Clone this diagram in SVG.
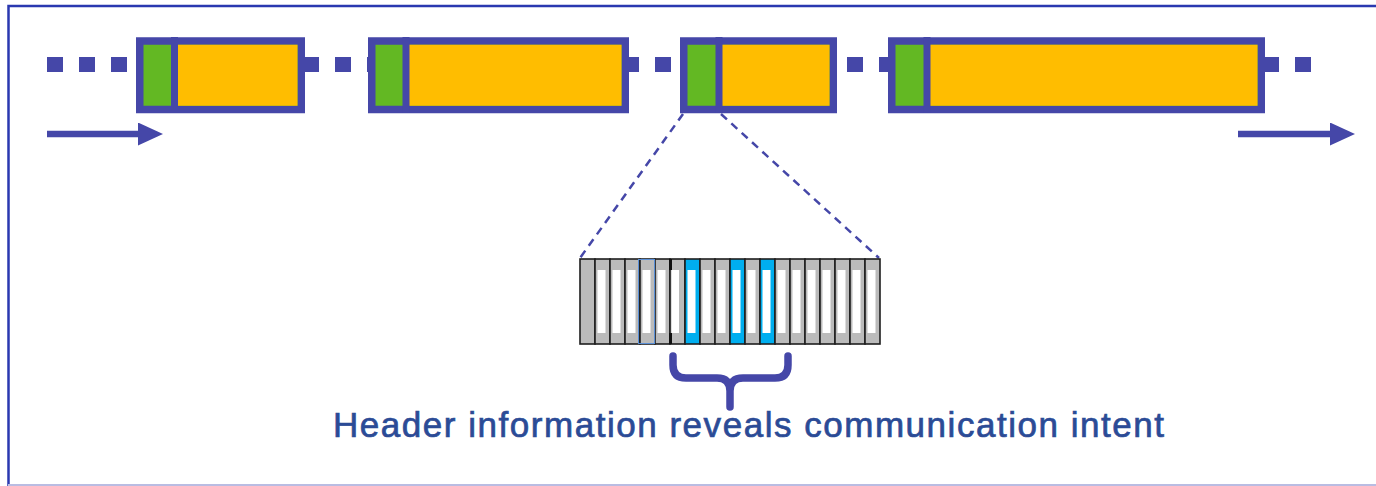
<svg xmlns="http://www.w3.org/2000/svg" width="1376" height="486" viewBox="0 0 1376 486">
<style>
.frame{fill:none;stroke:#2A38B0;stroke-width:2.5}
.pk{stroke:#4547A8;stroke-width:7.5}
.grn{fill:#63B823}
.org{fill:#FFBD00}
.div{stroke:#4547A8;stroke-width:7}
.stream{fill:none;stroke:#4547A8;stroke-width:15;stroke-dasharray:16 16}
.arrow{stroke:#4547A8;stroke-width:6.5;fill:none}
.zoomln{stroke:#4547A8;stroke-width:2.5;stroke-dasharray:8 6;fill:none}
.cell{fill:#BBBBBB;stroke:#1E1E1E;stroke-width:1.6}
.cellb{fill:#00AEEF;stroke:#1E1E1E;stroke-width:1.6}
.win{fill:#FFFFFF}
.brace{fill:none;stroke:#4547A8;stroke-width:7.5;stroke-linecap:round;stroke-linejoin:round}
.lbl{font-family:"Liberation Sans",Arial,sans-serif;font-size:35px;fill:#2B4B96;stroke:#2B4B96;stroke-width:0.7}
</style>
<defs>
<marker id="ah" viewBox="0 0 25 23" refX="3" refY="11.5" markerWidth="25" markerHeight="23" markerUnits="userSpaceOnUse" orient="auto">
<path d="M0,0 L25,11.5 L0,23 Z" fill="#4547A8"/>
</marker>
</defs>
<rect width="1376" height="486" fill="#FFFFFF"/>
<path class="frame" d="M8.5,486 V6 H1380"/>
<line x1="8" y1="485" x2="1376" y2="485" stroke="#B9BCE2" stroke-width="2"/>

<g id="connectors">
<line class="stream" x1="47" y1="64.5" x2="1313" y2="64.5"/>
<line class="arrow" x1="47" y1="134" x2="141" y2="134" marker-end="url(#ah)"/>
<line class="arrow" x1="1238" y1="134" x2="1333" y2="134" marker-end="url(#ah)"/>
<line class="zoomln" x1="683" y1="114" x2="580" y2="258"/>
<line class="zoomln" x1="721" y1="114" x2="879" y2="258"/>
</g>

<g id="packet1">
<rect class="pk grn" x="139.75" y="41" width="161.5" height="68.5"/>
<rect class="org" x="174" y="44.75" width="123.5" height="61"/>
<line class="div" x1="174.5" y1="37" x2="174.5" y2="113"/>
</g>
<g id="packet2">
<rect class="pk grn" x="371.75" y="41" width="253.5" height="68.5"/>
<rect class="org" x="406" y="44.75" width="215.5" height="61"/>
<line class="div" x1="406" y1="37" x2="406" y2="113"/>
</g>
<g id="packet3">
<rect class="pk grn" x="683.75" y="41" width="149.5" height="68.5"/>
<rect class="org" x="719" y="44.75" width="110.5" height="61"/>
<line class="div" x1="719" y1="37" x2="719" y2="113"/>
</g>
<g id="packet4">
<rect class="pk grn" x="891.75" y="41" width="369.5" height="68.5"/>
<rect class="org" x="927" y="44.75" width="330.5" height="61"/>
<line class="div" x1="927" y1="37" x2="927" y2="113"/>
</g>

<g id="header-bar">
<rect class="cell" x="580" y="259" width="15" height="85"/>
<rect class="cell" x="595" y="259" width="15" height="85"/><rect class="win" x="597.5" y="270" width="8" height="63"/>
<rect class="cell" x="610" y="259" width="15" height="85"/><rect class="win" x="612.5" y="270" width="8" height="63"/>
<rect class="cell" x="625" y="259" width="15" height="85"/><rect class="win" x="627.5" y="270" width="8" height="63"/>
<rect class="cell" x="640" y="259" width="15" height="85"/><rect class="win" x="642.5" y="270" width="8" height="63"/>
<rect class="cell" x="655" y="259" width="15" height="85"/><rect class="win" x="657.5" y="270" width="8" height="63"/>
<rect class="cell" x="670" y="259" width="15" height="85"/><rect class="win" x="671.5" y="270" width="7.5" height="63"/>
<rect class="cellb" x="685" y="259" width="15" height="85"/><rect class="win" x="687.5" y="270" width="8" height="63"/>
<rect class="cell" x="700" y="259" width="15" height="85"/><rect class="win" x="702.5" y="270" width="8" height="63"/>
<rect class="cell" x="715" y="259" width="15" height="85"/><rect class="win" x="717.5" y="270" width="8" height="63"/>
<rect class="cellb" x="730" y="259" width="15" height="85"/><rect class="win" x="732.5" y="270" width="8" height="63"/>
<rect class="cell" x="745" y="259" width="15" height="85"/><rect class="win" x="747.5" y="270" width="8" height="63"/>
<rect class="cellb" x="760" y="259" width="15" height="85"/><rect class="win" x="762.5" y="270" width="8" height="63"/>
<rect class="cell" x="775" y="259" width="15" height="85"/><rect class="win" x="777.5" y="270" width="8" height="63"/>
<rect class="cell" x="790" y="259" width="15" height="85"/><rect class="win" x="792.5" y="270" width="8" height="63"/>
<rect class="cell" x="805" y="259" width="15" height="85"/><rect class="win" x="807.5" y="270" width="8" height="63"/>
<rect class="cell" x="820" y="259" width="15" height="85"/><rect class="win" x="822.5" y="270" width="8" height="63"/>
<rect class="cell" x="835" y="259" width="15" height="85"/><rect class="win" x="837.5" y="270" width="8" height="63"/>
<rect class="cell" x="850" y="259" width="15" height="85"/><rect class="win" x="852.5" y="270" width="8" height="63"/>
<rect class="cell" x="865" y="259" width="15" height="85"/><rect class="win" x="867.5" y="270" width="8" height="63"/>
<rect x="669" y="259" width="3" height="11" fill="#111"/>
<rect x="669" y="333" width="3" height="11" fill="#111"/>
<rect x="638.5" y="259.5" width="16" height="84" fill="none" stroke="#5A8FD6" stroke-width="1"/>
</g>

<g id="brace">
<path class="brace" d="M673,356 V365 Q673,378 686,378 H717 Q730,378 730,391 V407 M730,391 Q730,378 743,378 H775 Q788,378 788,365 V356"/>
</g>

<g id="label">
<text class="lbl" x="333" y="437" textLength="831" lengthAdjust="spacing">Header information reveals communication intent</text>
</g>
</svg>
